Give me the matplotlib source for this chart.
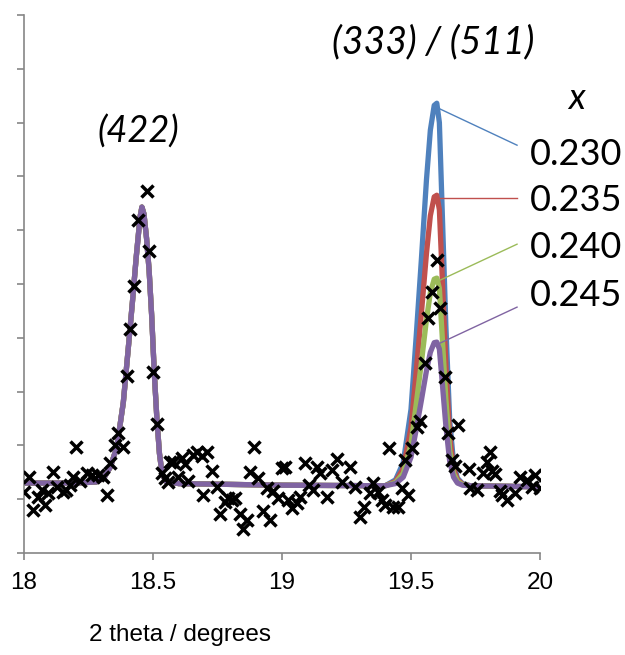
import matplotlib
matplotlib.use("Agg")
import matplotlib.pyplot as plt

# ------------------------------------------------------------
# Data (arbitrary intensity units)
# ------------------------------------------------------------
obs_2theta = [
    18.000, 18.019, 18.035, 18.054, 18.070, 18.081, 18.093, 18.112, 18.128, 18.151,
    18.163, 18.178, 18.190, 18.202, 18.217, 18.244, 18.264, 18.287, 18.306, 18.322,
    18.333, 18.353, 18.364, 18.384, 18.399, 18.411, 18.426, 18.442, 18.477, 18.484,
    18.500, 18.516, 18.535, 18.547, 18.558, 18.566, 18.578, 18.597, 18.612, 18.624,
    18.636, 18.655, 18.671, 18.690, 18.694, 18.709, 18.729, 18.748, 18.760, 18.779,
    18.791, 18.806, 18.818, 18.837, 18.849, 18.864, 18.876, 18.891, 18.907, 18.926,
    18.942, 18.953, 18.965, 18.984, 19.000, 19.012, 19.023, 19.039, 19.058, 19.070,
    19.089, 19.105, 19.120, 19.136, 19.147, 19.174, 19.194, 19.213, 19.233, 19.264,
    19.283, 19.302, 19.318, 19.341, 19.353, 19.372, 19.388, 19.399, 19.415, 19.430,
    19.450, 19.465, 19.477, 19.488, 19.504, 19.523, 19.535, 19.554, 19.566, 19.581,
    19.601, 19.612, 19.632, 19.643, 19.659, 19.671, 19.682, 19.725, 19.729, 19.756,
    19.779, 19.794, 19.806, 19.814, 19.826, 19.845, 19.853, 19.872, 19.903, 19.922,
    19.950, 19.969, 19.981, 20.000,
]
obs_intensity = [
    1.13, 1.41, 0.80, 1.04, 1.17, 0.89, 1.12, 1.51, 1.23, 1.13,
    1.17, 1.26, 1.41, 1.97, 1.34, 1.49, 1.45, 1.45, 1.41, 1.08,
    1.67, 2.01, 2.23, 1.97, 3.29, 4.16, 4.96, 6.19, 6.73, 5.61,
    3.36, 2.40, 1.49, 1.39, 1.32, 1.69, 1.69, 1.41, 1.77, 1.65,
    1.34, 1.82, 1.88, 1.80, 1.08, 1.88, 1.52, 1.23, 0.72, 0.95,
    1.02, 0.99, 1.02, 0.72, 0.45, 0.61, 1.51, 1.97, 1.39, 0.78,
    1.21, 0.61, 1.15, 1.02, 1.58, 1.60, 0.99, 0.84, 0.93, 1.04,
    1.67, 1.26, 1.17, 1.60, 1.49, 1.04, 1.54, 1.75, 1.32, 1.60,
    1.23, 0.67, 0.86, 1.12, 1.30, 1.13, 0.99, 0.89, 1.95, 0.86,
    0.86, 1.21, 1.73, 1.08, 1.95, 2.34, 2.45, 3.53, 4.37, 4.85,
    5.45, 4.55, 3.27, 2.23, 1.73, 1.62, 2.38, 1.56, 1.21, 1.17,
    1.49, 1.69, 1.88, 1.52, 1.47, 1.15, 1.08, 0.99, 1.12, 1.41,
    1.36, 1.23, 1.45, 1.21,
]

fit_2theta = [
    18.000, 18.200, 18.280, 18.310, 18.335, 18.360, 18.385, 18.405, 18.420, 18.435,
    18.450, 18.457, 18.465, 18.475, 18.485, 18.495, 18.505, 18.515, 18.525, 18.535,
    18.550, 18.600, 19.000, 19.400, 19.440, 19.470, 19.500, 19.520, 19.540, 19.560,
    19.575, 19.590, 19.600, 19.610, 19.620, 19.635, 19.650, 19.665, 19.680, 19.700,
    19.730, 20.000,
]
peak422 = [
    1.30, 1.30, 1.32, 1.40, 1.60, 1.97, 2.80, 3.85, 4.65, 5.50,
    6.25, 6.43, 6.30, 5.85, 5.25, 4.40, 3.35, 2.50, 1.85, 1.48,
    1.33, 1.29, 1.26,
]
fit_230 = peak422 + [1.25, 1.36, 1.68, 2.67, 4.02, 5.44, 6.94, 7.86, 8.32, 8.36,
                     8.00, 6.51, 4.24, 2.46, 1.68, 1.39, 1.29, 1.25, 1.23]
fit_235 = peak422 + [1.25, 1.33, 1.57, 2.33, 3.36, 4.44, 5.57, 6.27, 6.62, 6.65,
                     6.38, 5.25, 3.52, 2.17, 1.57, 1.36, 1.28, 1.25, 1.23]
fit_240 = peak422 + [1.25, 1.31, 1.48, 2.02, 2.76, 3.53, 4.34, 4.84, 5.09, 5.11,
                     4.92, 4.11, 2.87, 1.91, 1.48, 1.33, 1.27, 1.25, 1.23]
fit_245 = peak422 + [1.25, 1.29, 1.41, 1.78, 2.29, 2.83, 3.39, 3.73, 3.91, 3.92,
                     3.79, 3.23, 2.37, 1.70, 1.41, 1.30, 1.26, 1.25, 1.23]

x_labels = ["0.230", "0.235", "0.240", "0.245"]
fits = [fit_230, fit_235, fit_240, fit_245]
colors = ["#4F81BD", "#C0504D", "#9BBB59", "#8064A2"]
# leader lines: (peak top) -> (label side)
leader_start = [(19.605, 8.27), (19.612, 6.60), (19.612, 5.07), (19.612, 3.90)]
leader_end = [(19.911, 7.58), (19.911, 6.60), (19.911, 5.74), (19.911, 4.57)]
label_y = [7.40, 6.55, 5.68, 4.79]

# ------------------------------------------------------------
# Figure
# ------------------------------------------------------------
fig = plt.figure(figsize=(6.25, 6.55), dpi=100)
ax = fig.add_axes([24 / 625, 102 / 655, 516 / 625, 538 / 655])

for ys, c in zip(fits, colors):
    ax.plot(fit_2theta, ys, color=c, lw=3.8, solid_capstyle="round", zorder=2)

ax.plot(obs_2theta, obs_intensity, ls="none", marker="x", ms=8.5, mew=2.5,
        color="black", zorder=3)

for (x0, y0), (x1, y1), c in zip(leader_start, leader_end, colors):
    ax.plot([x0, x1], [y0, y1], color=c, lw=1.0, clip_on=False, zorder=4)

label_font = ["Lato", "DejaVu Sans"]
for lab, ly in zip(x_labels, label_y):
    ax.text(19.96, ly, lab, fontsize=26, family=label_font, va="center", ha="left")
ax.text(20.14, 8.45, "x", fontsize=26, family=label_font, style="italic",
        va="center", ha="center")
ax.text(18.442, 7.83, "(422)", fontsize=26, family=label_font, style="italic",
        va="center", ha="center")
ax.text(19.585, 9.50, "(333) / (511)", fontsize=27, family=label_font,
        style="italic", va="center", ha="center")

ax.set_xlim(18, 20)
ax.set_ylim(0, 10)
ax.set_xticks([18, 18.5, 19, 19.5, 20])
ax.set_xticklabels(["18", "18.5", "19", "19.5", "20"])
ax.set_yticks(range(0, 11))
ax.set_yticklabels([])

for side in ["top", "right"]:
    ax.spines[side].set_visible(False)
for side in ["left", "bottom"]:
    ax.spines[side].set_color("#868686")
    ax.spines[side].set_linewidth(1.2)
ax.tick_params(axis="both", direction="out", length=5, width=1.2, color="#868686")
ax.tick_params(axis="x", labelsize=17.5, pad=9)
for t in ax.get_xticklabels():
    t.set_family(["Liberation Sans", "DejaVu Sans"])

fig.text(180 / 625, 1 - 635 / 655, "2 theta / degrees", fontsize=17.5,
         family=["Liberation Sans", "DejaVu Sans"], ha="center", va="center")

fig.savefig("out.png", dpi=100)
